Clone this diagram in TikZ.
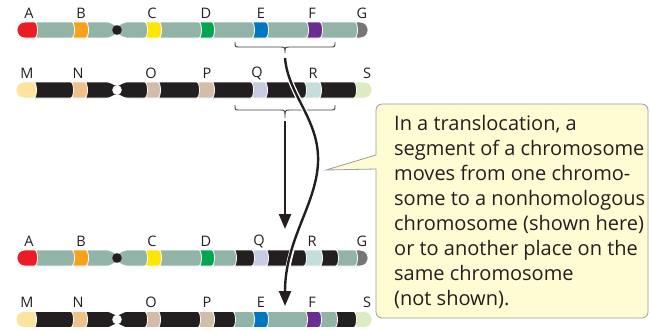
\documentclass[tikz,border=0pt]{standalone}
\usepackage{fontspec}
\setmainfont{Open Sans}
\usetikzlibrary{arrows.meta}

\definecolor{chgray}{HTML}{92B4A7}
\definecolor{chblack}{HTML}{231F20}
\definecolor{chred}{HTML}{ED1C24}
\definecolor{chorange}{HTML}{F7A21B}
\definecolor{chyellow}{HTML}{FFE600}
\definecolor{chgreen}{HTML}{00A651}
\definecolor{chblue}{HTML}{0077C0}
\definecolor{chpurple}{HTML}{6A2C91}
\definecolor{chdark}{HTML}{767676}
\definecolor{chM}{HTML}{FCE39E}
\definecolor{chN}{HTML}{EFC188}
\definecolor{chOP}{HTML}{D3BDAA}
\definecolor{chQ}{HTML}{C6CAE3}
\definecolor{chR}{HTML}{C3DEDC}
\definecolor{chS}{HTML}{DDEBC1}
\definecolor{notefill}{HTML}{FFFBD3}
\definecolor{noteline}{HTML}{9C9C9C}
\definecolor{ink}{HTML}{231F20}

% one band of a chromosome: centre y, left x, right x, colour
\newcommand\chrseg[4]{\fill[#4, draw=white, line width=0.8pt] (#2,#1-8) -- (#3-1.5,#1-8) .. controls (#3+2.5,#1-8) and (#3+2.5,#1+8) .. (#3-1.5,#1+8) -- (#2,#1+8) -- cycle;}
\newcommand\chrcapL[4]{\fill[#4, draw=white, line width=0.8pt] (#2+8,#1-8) -- (#3-1.5,#1-8) .. controls (#3+2.5,#1-8) and (#3+2.5,#1+8) .. (#3-1.5,#1+8) -- (#2+8,#1+8) .. controls (#2-2.7,#1+8) and (#2-2.7,#1-8) .. (#2+8,#1-8) -- cycle;}
\newcommand\chrcapR[4]{\fill[#4, draw=white, line width=0.8pt] (#2,#1-8) -- (#3-8,#1-8) .. controls (#3+2.7,#1-8) and (#3+2.7,#1+8) .. (#3-8,#1+8) -- (#2,#1+8) -- cycle;}
% centromere: centre y, x, dot colour
\newcommand\chrcen[3]{%
  \fill[white] (#2-15,#1-8.6) .. controls (#2-6,#1-8.6) and (#2-4,#1-4.2) .. (#2,#1-4.2) .. controls (#2+4,#1-4.2) and (#2+6,#1-8.6) .. (#2+15,#1-8.6) -- cycle;
  \fill[white] (#2-15,#1+8.6) .. controls (#2-6,#1+8.6) and (#2-4,#1+4.2) .. (#2,#1+4.2) .. controls (#2+4,#1+4.2) and (#2+6,#1+8.6) .. (#2+15,#1+8.6) -- cycle;
  \fill[#3] (#2,#1) circle (4.8pt);}

\tikzset{
  lab/.style={font=\fontsize{14.5}{14.5}\selectfont, text=ink, inner sep=0pt},
  bracket/.style={draw=ink!85, line width=0.9pt},
  move/.style={draw=ink, line width=2.4pt, -{Triangle[width=12pt,length=15pt]}},
  halo/.style={draw=white, line width=5pt},
  note/.style={fill=notefill, draw=noteline, line width=0.8pt},
}

\begin{document}
\begin{tikzpicture}[x=1pt, y=-1pt]
	\useasboundingbox (0,0) rectangle (650,330);
	% Chromosome A-G:
	\chrcapR{30}{356}{368}{chdark}
	\foreach \a/\b/\c in {321/356/chgray, 307/321/chpurple, 267/307/chgray, 253/267/chblue, 213/253/chgray, 200/213/chgreen, 160/200/chgray, 146/160/chyellow, 117/146/chgray, 87/117/chgray, 73/87/chorange, 36/73/chgray}
		{\chrseg{30}{\a}{\b}{\c}}
	\chrcapL{30}{17}{36}{chred}
	\chrcen{30}{117}{chblack}
	% Chromosome M-S:
	\chrcapR{90}{355}{372}{chS}
	\foreach \a/\b/\c in {320/355/chblack, 305/320/chR, 266/305/chblack, 252/266/chQ, 213/252/chblack, 198/213/chOP, 159/198/chblack, 146/159/chOP, 117/146/chblack, 86/117/chblack, 72/86/chN, 35/72/chblack}
		{\chrseg{90}{\a}{\b}{\c}}
	\chrcapL{90}{16}{35}{chM}
	\chrcen{90}{117}{white}
	% Chromosome A-D Q R G:
	\chrcapR{258}{356}{368}{chdark}
	\foreach \a/\b/\c in {337/356/chgray, 321/337/chblack, 305/321/chR, 267/305/chblack, 253/267/chQ, 235/253/chblack, 213/235/chgray, 200/213/chgreen, 160/200/chgray, 146/160/chyellow, 117/146/chgray, 87/117/chgray, 73/87/chorange, 36/73/chgray}
		{\chrseg{258}{\a}{\b}{\c}}
	\chrcapL{258}{17}{36}{chred}
	\chrcen{258}{117}{chblack}
	% Chromosome M-P E F S:
	\chrcapR{319.5}{355}{372}{chS}
	\foreach \a/\b/\c in {336/355/chblack, 320/336/chgray, 306/320/chpurple, 267/306/chgray, 253/267/chblue, 234/253/chgray, 213/234/chblack, 199/213/chOP, 159/199/chblack, 146/159/chOP, 117/146/chblack, 86/117/chblack, 72/86/chN, 35/72/chblack}
		{\chrseg{319.5}{\a}{\b}{\c}}
	\chrcapL{319.5}{16}{35}{chM}
	\chrcen{319.5}{117}{white}
	% Labels:
	\foreach \t/\x in {A/29, B/81, C/152, D/206, E/261, F/312, G/362}
		\node[lab] (r1\t) at (\x,13) {\t};
	\foreach \t/\x in {M/27, N/78, O/151, P/207, Q/257, R/313, S/367}
		\node[lab] (r2\t) at (\x,73) {\t};
	\foreach \t/\x in {A/29, B/81, C/152, D/206, Q/259, R/312, G/362}
		\node[lab] (r3\t) at (\x,241) {\t};
	\foreach \t/\x in {M/27, N/78, O/151, P/207, E/261, F/312, S/367}
		\node[lab] (r4\t) at (\x,302.5) {\t};
	% Brackets and moves:
	\coordinate (tipEF) at (285,53);
	\coordinate (tipQR) at (285,118);
	\coordinate (bendEF) at (318,163);
	\coordinate (endEF) at (285,306);
	\coordinate (endQR) at (285,229);
	\draw[bracket] (235,42) .. controls (235,47) .. (240,47) -- (280,47) .. controls (285,47) .. (tipEF) .. controls (285,47) .. (290,47) -- (330,47) .. controls (335,47) .. (335,42);
	\draw[bracket] (235,105) .. controls (235,110) .. (240,110) -- (280,110) .. controls (285,110) .. (tipQR) .. controls (285,110) .. (290,110) -- (330,110) .. controls (335,110) .. (335,105);
	\draw[halo] ([yshift=-5pt]tipEF) .. controls (288,95) and (320,120) .. (bendEF) .. controls (316,205) and (285,240) .. ([yshift=8pt]endEF);
	\draw[move] ([yshift=-5pt]tipEF) .. controls (288,95) and (320,120) .. (bendEF) .. controls (316,205) and (285,240) .. (endEF);
	\draw[move] ([yshift=-3pt]tipQR) -- (endQR);
	% Note:
	\draw[note, rounded corners=6pt] (376,169) -- (376,318) -- (648,318) -- (648,104) -- (376,104) [sharp corners] -- (376,155) -- (326,170) -- cycle;
	\node[anchor=north west, align=left, inner sep=0pt, text=ink, font=\fontsize{20}{25}\selectfont] (notetext) at (394,115.5) {In a translocation, a\\segment of a chromosome\\moves from one chromo-\\some to a nonhomologous\\chromosome (shown here)\\or to another place on the\\same chromosome\\(not shown).};
\end{tikzpicture}
\end{document}
